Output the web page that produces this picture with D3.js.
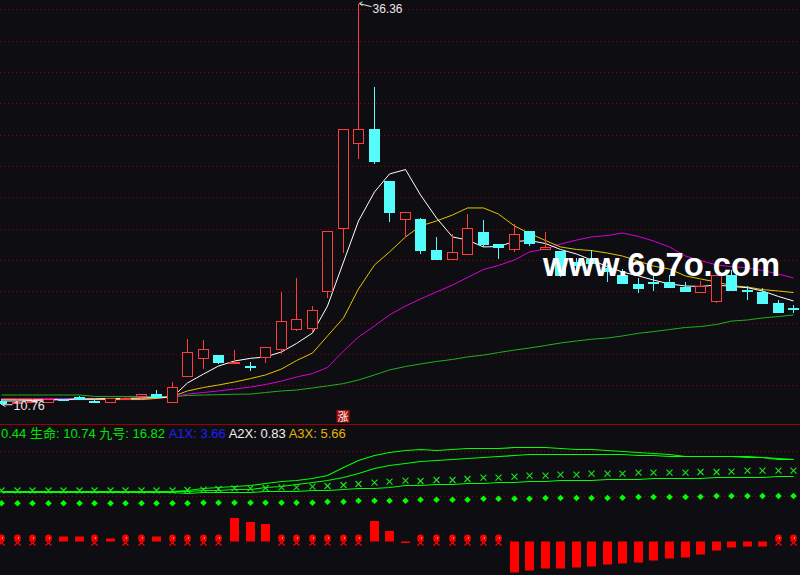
<!DOCTYPE html>
<html>
<head>
<meta charset="utf-8">
<script src="https://cdn.jsdelivr.net/npm/d3@7"></script>
<style>
  body { margin: 0; background: #0e0e12; }
  svg { display: block; }
</style>
</head>
<body>
<div id="chart"></div>
<script>
// daily K-line values
var openP  = [11.02,10.90,10.95,10.92,11.12,11.27,11.00,10.92,11.13,11.32,11.44,10.89,12.55,13.72,13.93,13.44,13.23,13.76,14.30,15.57,15.64,17.97,22.00,27.45,28.34,25.04,22.60,22.60,20.64,20.04,20.36,21.80,21.00,20.68,21.85,20.70,20.58,19.87,20.04,19.49,19.04,18.47,18.59,18.59,18.29,17.97,17.38,19.04,18.08,17.97,17.27,16.91];
var highP  = [11.10,11.00,11.02,11.12,11.15,11.30,11.05,11.17,11.25,11.46,11.70,12.19,14.96,14.89,13.93,14.25,13.51,14.43,17.96,18.87,17.06,21.83,28.34,36.36,31.02,25.04,23.04,22.66,21.45,21.66,22.93,22.55,21.00,22.30,21.85,21.80,20.58,20.15,20.64,19.68,19.40,18.83,19.04,19.04,18.59,18.68,19.04,19.36,18.34,18.19,17.44,17.13];
var lowP   = [10.76,10.85,10.90,10.90,11.02,11.10,10.90,10.92,11.10,11.30,11.22,10.89,12.55,13.04,13.36,13.40,12.93,13.40,13.98,15.48,15.38,17.59,20.43,26.43,26.12,22.44,21.49,20.36,20.00,20.04,20.36,20.81,20.08,20.49,20.89,20.64,18.89,19.15,19.68,18.61,18.45,17.91,18.04,18.23,18.04,17.97,17.27,18.02,17.44,17.27,16.63,16.63];
var closeP = [10.90,10.95,11.00,11.10,11.05,11.13,10.99,11.17,11.22,11.44,11.27,11.87,14.11,14.30,13.51,13.51,13.22,14.43,16.10,16.21,16.79,21.83,28.34,28.34,26.27,23.08,23.04,20.64,20.06,20.49,22.02,21.02,20.81,21.66,21.06,20.83,19.04,19.68,19.79,19.30,18.55,18.23,18.55,18.29,18.04,18.34,19.04,18.08,18.04,17.27,16.70,16.87];

// moving averages
var ma5  = [11.00,11.00,11.03,11.06,11.09,11.13,11.13,11.16,11.16,11.19,11.22,11.25,12.15,12.72,13.23,13.55,13.72,13.81,14.13,14.67,15.34,17.06,19.87,22.49,24.34,25.49,25.77,24.15,22.68,21.47,21.27,20.83,20.86,21.18,21.24,21.05,20.67,20.38,20.00,19.57,19.23,18.98,18.72,18.47,18.34,18.31,18.40,18.31,18.23,18.02,17.67,17.38];
var ma10 = [11.09,11.09,11.09,11.09,11.09,11.09,11.09,11.09,11.09,11.09,11.16,11.29,11.64,11.86,12.02,12.21,12.43,12.66,13.04,13.58,14.06,15.15,16.30,18.15,19.68,20.51,21.47,22.17,22.49,22.87,23.32,23.32,22.93,22.17,21.69,21.24,20.83,20.67,20.60,20.44,20.25,19.93,19.61,19.42,18.98,18.79,18.59,18.37,18.27,18.11,18.02,17.92];
var ma20 = [11.16,11.16,11.16,11.16,11.16,11.16,11.16,11.16,11.16,11.16,11.16,11.25,11.44,11.54,11.64,11.76,11.89,12.05,12.27,12.53,12.75,13.14,14.19,15.08,15.79,16.49,17.06,17.51,17.96,18.40,18.88,19.39,19.65,20.00,20.51,20.70,21.02,21.27,21.47,21.56,21.72,21.50,21.21,20.83,20.25,19.97,19.68,19.58,19.49,19.33,19.10,18.85];
var ma60 = [11.38,11.38,11.38,11.38,11.38,11.38,11.29,11.29,11.29,11.29,11.29,11.27,11.35,11.38,11.40,11.43,11.44,11.54,11.64,11.70,11.83,11.96,12.11,12.34,12.66,12.98,13.20,13.36,13.52,13.65,13.81,13.93,14.09,14.25,14.38,14.54,14.70,14.83,14.94,15.02,15.15,15.32,15.43,15.56,15.69,15.75,15.88,16.10,16.17,16.30,16.39,16.49];

// indicator panel
var lineA  = [84,84,84,84,84,84,84,84,84,84,84,84,85.5,86.8,87.8,89,90.5,92.2,93.7,95.3,97.1,100.2,108,115,120.3,123,124.7,125.7,124.7,125.7,126.7,126.7,126.7,127.7,127.7,127.7,126.7,125.7,125.7,124.7,123.7,122.7,121.7,120.7,119.5,119.3,119.3,118.7,118.7,117.7,116,116];
var lineB  = [84,84,84,84,84,84,84,84,84,84,84,84,84.3,84.7,85,85.8,86.5,87.8,89.4,91.2,93.2,95.5,98.5,102.5,106.7,110,112.5,113.7,114.7,115.7,116.7,117.7,118.7,119.7,120.7,120.7,120.7,120.7,120.7,120.7,120.7,119.7,119.7,119.3,119.3,119.3,119.3,118.7,118.5,117.7,116.7,116];
var lineC  = [83,83,83,83,83,83,83,83,83,83,83,83,82.4,82.6,82.8,83,83.3,83.6,84,84,84.6,85.4,86.2,86.7,87.5,88.3,89.7,89.7,90.7,90.7,91.7,91.7,92.7,92.7,93.7,93.7,94.7,94.7,94.7,95.7,95.7,95.7,96.7,96.7,96.7,96.7,97.7,97.7,97.7,97.7,98.7,98.7];
var crossV = [84.5,84.5,84.5,84.5,84.5,84.5,84.5,84.5,84.5,84.5,84.5,84.5,85,85.3,86,86.7,86.7,87,87.7,87.7,88.3,89,90,91,92.3,93.3,94.3,94,95,95,96,97.3,97.3,98.3,99.3,99.3,100.3,100.3,101.3,101.3,101.3,102.3,102.3,102.3,102.3,103,103,103.3,104.3,104.3,104.3,104.3];
var dotV   = [71.7,71.7,71.7,71.7,71.7,71.7,71.7,71.7,71.7,71.7,71.7,71.7,71.7,72.3,72.3,72.3,72.3,72.3,72.3,72.3,72.3,73.3,73.3,74.3,74.3,74.3,74.3,75.3,75.3,75.3,75.3,76.3,76.3,76.3,76.3,77,77,77,77,77,77.3,78,78,78,78,78.3,79,79,79,79,79,79];
var hist   = [0,0,0,0,5,5,0,3,0,0,5,0,0,0,0,23.5,19.5,17.5,0,0,0,0,0,0,20.5,10.5,-1,0,0,0,0,0,0,-31,-29,-27,-27,-26,-25,-23,-22,-21,-19,-17,-16,-13,-9,-6,-5,-5,0,0];
var lowerGrid = [79, 124];

var legendLabels = ["0.44", "生命: 10.74", "九号: 16.82", "A1X: 3.66", "A2X: 0.83", "A3X: 5.66"];
var legendColors = ["#00e600", "#00e600", "#00e600", "#1e1eff", "#f0f0f0", "#e6b400"];
var badgeIndex = 22, badgeText = "涨";
var watermark = "www.6o7o.com";

var w = 800;
var h = 575;
var bg = "#0e0e12";
var upColor = "#ff3c3c";
var downColor = "#54fcfc";

var svg = d3.select("#chart")
            .append("svg")
            .attr("width", w)
            .attr("height", h)
            .style("background", bg);

var idx = d3.range(openP.length);
var x = d3.scaleBand().domain(idx).range([-6.77, 801.05]).padding(0);
function cx(i) { return Math.round(x(i) + x.bandwidth() / 2) + 0.5; }

var y = d3.scaleLinear().domain([12, 36]).range([385.3, 9.3]);
var yl = d3.scaleLinear().domain([0, 130]).range([575, 445]);
var yh = d3.scaleLinear().domain([-40, 40]).range([581.5, 501.5]);

// dotted grid of the price panel
svg.selectAll(".grid")
   .data(y.ticks(12))
   .enter()
   .append("line")
   .attr("x1", 0).attr("x2", w)
   .attr("y1", function(d) { return Math.round(y(d)) + 0.5; })
   .attr("y2", function(d) { return Math.round(y(d)) + 0.5; })
   .attr("stroke", "#8a0000")
   .attr("stroke-dasharray", "1,3");

// moving averages, drawn under the candles
var maLine = d3.line().x(function(d, i) { return cx(i); }).y(function(d) { return y(d); });
[[ma60, "#1fb01f"], [ma20, "#d800d8"], [ma10, "#e6c300"], [ma5, "#ffffff"]].forEach(function(m) {
  svg.append("path").attr("d", maLine(m[0])).attr("fill", "none").attr("stroke", m[1]).attr("stroke-width", 1);
});

// candles
var candles = svg.selectAll(".candle")
   .data(idx)
   .enter()
   .append("g")
   .attr("class", "candle")
   .attr("shape-rendering", "crispEdges");

candles.append("line")
   .attr("x1", cx).attr("x2", cx)
   .attr("y1", function(i) { return y(highP[i]); })
   .attr("y2", function(i) { return y(lowP[i]); })
   .attr("stroke", function(i) { return closeP[i] >= openP[i] ? upColor : downColor; });

candles.append("rect")
   .attr("x", function(i) { return cx(i) - 5; })
   .attr("width", 10)
   .attr("y", function(i) { return Math.round(y(Math.max(openP[i], closeP[i]))) + 0.5; })
   .attr("height", function(i) { return Math.max(0.5, Math.round(Math.abs(y(openP[i]) - y(closeP[i])))); })
   .attr("fill", function(i) { return closeP[i] >= openP[i] ? bg : downColor; })
   .attr("stroke", function(i) { return closeP[i] >= openP[i] ? upColor : downColor; });

// high / low marks
var hi = d3.maxIndex(highP), lo = d3.minIndex(lowP);
var hx = cx(hi), hy = y(highP[hi]);
svg.append("path")
   .attr("d", "M" + (hx + 1) + "," + hy + "l3,-2M" + (hx + 1) + "," + hy + "l3,2M" + (hx + 1) + "," + hy + "l12,3")
   .attr("stroke", "#e8e8e8").attr("fill", "none");
svg.append("text").attr("x", hx + 14).attr("y", hy + 9)
   .attr("fill", "#e8e8e8").attr("font-family", "Liberation Sans, Arial, sans-serif").attr("font-size", 12)
   .text(highP[hi].toFixed(2));
var lx = cx(lo), ly = y(lowP[lo]);
svg.append("path")
   .attr("d", "M" + (lx + 1) + "," + ly + "l3,-2M" + (lx + 1) + "," + ly + "l3,2M" + (lx + 1) + "," + ly + "l10,0")
   .attr("stroke", "#e8e8e8").attr("fill", "none");
svg.append("text").attr("x", lx + 12).attr("y", ly + 5)
   .attr("fill", "#e8e8e8").attr("font-family", "Liberation Sans, Arial, sans-serif").attr("font-size", 12.5)
   .text(lowP[lo].toFixed(2));

// limit-up badge
svg.append("rect").attr("x", cx(badgeIndex) - 7).attr("y", 410).attr("width", 13).attr("height", 12.5).attr("fill", "#a00d0d");
svg.append("text").attr("x", cx(badgeIndex) - 0.5).attr("y", 420.5).attr("text-anchor", "middle")
   .attr("fill", "#ffffff").attr("font-size", 11).attr("font-family", "Noto Sans CJK SC")
   .text(badgeText);

// watermark
svg.append("text").attr("x", 543).attr("y", 276)
   .attr("fill", "#ffffff").attr("font-weight", "bold").attr("font-size", 33)
   .attr("font-family", "Liberation Sans, Arial, sans-serif")
   .attr("textLength", 237).attr("lengthAdjust", "spacingAndGlyphs")
   .text(watermark);

// panel separator
svg.append("line").attr("x1", 0).attr("x2", w).attr("y1", 424.5).attr("y2", 424.5).attr("stroke", "#9a0000");

// legend
var legend = svg.append("text").attr("x", 1).attr("y", 437.5)
   .attr("font-size", 13).attr("font-family", "Liberation Sans, Noto Sans CJK SC, sans-serif");
legendLabels.forEach(function(t, i) {
  legend.append("tspan").attr("fill", legendColors[i]).text((i ? " " : "") + t);
});

// indicator panel grid
svg.selectAll(".lgrid")
   .data(lowerGrid)
   .enter()
   .append("line")
   .attr("x1", 0).attr("x2", w)
   .attr("y1", function(d) { return Math.round(yl(d)) + 0.5; })
   .attr("y2", function(d) { return Math.round(yl(d)) + 0.5; })
   .attr("stroke", "#8a0000")
   .attr("stroke-dasharray", "1,3");

var lowLine = d3.line().x(function(d, i) { return cx(i); }).y(function(d) { return Math.round(yl(d)) + 0.5; });
[lineC, lineB, lineA].forEach(function(s) {
  svg.append("path").attr("d", lowLine(s)).attr("fill", "none").attr("stroke", "#00ff00").attr("stroke-width", 1.2);
});

svg.selectAll(".cross")
   .data(crossV)
   .enter()
   .append("path")
   .attr("d", function(d, i) { var a = cx(i), b = yl(d); return "M" + (a - 3) + "," + (b - 3) + "L" + (a + 3) + "," + (b + 3) + "M" + (a + 3) + "," + (b - 3) + "L" + (a - 3) + "," + (b + 3); })
   .attr("stroke", "#19e619").attr("stroke-width", 1.1);

svg.selectAll(".dot")
   .data(dotV)
   .enter()
   .append("path")
   .attr("d", d3.symbol().type(d3.symbolSquare).size(22))
   .attr("transform", function(d, i) { return "translate(" + cx(i) + "," + yl(d) + ") rotate(45)"; })
   .attr("fill", "#00ff00");

// red histogram, with the small marker where there is no bar
idx.forEach(function(i) {
  var v = hist[i], a = cx(i);
  if (v !== 0) {
    svg.append("rect")
       .attr("x", a - 4.5).attr("width", 9)
       .attr("y", Math.min(yh(v), yh(0)))
       .attr("height", Math.max(1.5, Math.abs(yh(v) - yh(0))))
       .attr("fill", "#ff0000");
  } else {
    svg.append("circle").attr("cx", a).attr("cy", 537.8).attr("r", 3.3).attr("fill", "#ff0000");
    svg.append("rect").attr("x", a + 0.5).attr("y", 537.5).attr("width", 1).attr("height", 1).attr("fill", "#ffffff");
    svg.append("path")
       .attr("d", "M" + (a - 3) + ",540L" + (a + 3) + ",545.5M" + (a + 3) + ",540L" + (a - 3) + ",545.5")
       .attr("stroke", "#ff0000").attr("stroke-width", 1.2);
  }
});
</script>
</body>
</html>
